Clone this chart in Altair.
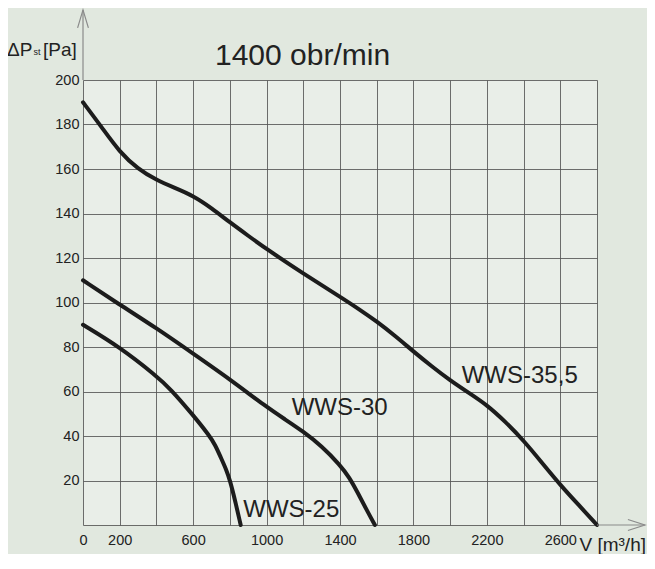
import altair as alt
import pandas as pd

# ---- curve data (V in m3/h, static pressure in Pa) ----
x_355 = [0, 100, 200, 300, 400, 500, 600, 700, 800, 900, 1000, 1200, 1400, 1500, 1600, 1700,
         1800, 1900, 2000, 2100, 2200, 2300, 2400, 2500, 2600, 2700, 2800]
y_355 = [190, 179, 167.5, 160, 155, 151.5, 148, 142.5, 136, 130, 124, 113, 102.6, 97.2, 91.5, 85,
         78, 71.3, 65, 59.5, 54, 46.5, 38, 28, 18, 9, 0]

x_30 = [0, 200, 400, 600, 800, 1000, 1100, 1200, 1300, 1400, 1450, 1500, 1550, 1590]
y_30 = [110, 99, 88.5, 77, 65.5, 53, 47.5, 42, 35.5, 27, 21.5, 14, 6, 0]

x_25 = [0, 200, 400, 474, 600, 690, 720, 750, 780, 801, 830, 859]
y_25 = [90, 80, 67, 61.4, 49.4, 40, 36, 30.5, 25, 20, 10.5, 0]

series_names = ["WWS-35,5", "WWS-30", "WWS-25"]
label_x = [2063, 1137, 873]
label_y = [63.8, 49.4, 3.7]

x_grid = list(range(0, 2801, 200))
y_grid = list(range(0, 201, 20))
x_labels = [0, 200, 600, 1000, 1400, 1800, 2200, 2600]
y_labels = [20, 40, 60, 80, 100, 120, 140, 160, 180, 200]

title_text = "1400 obr/min"
ytitle_main = "\u0394P"
ytitle_sub = "st"
ytitle_unit = "[Pa]"
xtitle_text = "V [m\u00b3/h]"

axis_end_x = 3061
axis_end_y = 231.5

rows = []
for name, xs_, ys_ in zip(series_names, [x_355, x_30, x_25], [y_355, y_30, y_25]):
    for a, b in zip(xs_, ys_):
        rows.append({"series": name, "V": a, "P": b})
df = pd.DataFrame(rows)
lab_df = pd.DataFrame({"series": series_names, "V": label_x, "P": label_y})

FONT = "Liberation Sans"
TXT = "#222222"
AX = "#8a8a8a"

xscale = alt.Scale(domain=[0, 2800], nice=False, zero=False)
yscale = alt.Scale(domain=[0, 200], nice=False, zero=False)

x_axis = alt.Axis(values=x_grid, title=None, domain=False, ticks=False, grid=True, format="d",
                  labelExpr=f"indexof({x_labels}, datum.value) >= 0 ? datum.label : ''",
                  labelPadding=8, labelFontSize=14.5, labelFont=FONT, labelColor=TXT,
                  labelOverlap=False, labelFlush=False)
y_axis = alt.Axis(values=y_grid, title=None, domain=False, ticks=False, grid=True, format="d",
                  labelExpr=f"indexof({y_labels}, datum.value) >= 0 ? datum.label : ''",
                  labelPadding=4, labelFontSize=14.5, labelFont=FONT, labelColor=TXT,
                  labelOverlap=False, labelFlush=False)


def X(f):
    return alt.X(f, type="quantitative", scale=xscale, axis=x_axis)


def Y(f):
    return alt.Y(f, type="quantitative", scale=yscale, axis=y_axis)


lines = alt.Chart(df).mark_line(strokeWidth=4, color="#1c1c1c", interpolate="basis",
                                strokeCap="round").encode(
    x=X("V"), y=Y("P"), detail="series:N")

labels = alt.Chart(lab_df).mark_text(align="left", baseline="alphabetic", fontSize=24,
                                     font=FONT, color=TXT).encode(
    x=X("V"), y=Y("P"), text="series:N")

yext = alt.Chart(pd.DataFrame({"V": [0], "P": [200], "P2": [axis_end_y]})).mark_rule(
    color=AX, strokeWidth=1.2).encode(x=X("V"), y=Y("P"), y2="P2")
xext = alt.Chart(pd.DataFrame({"V": [2800], "V2": [axis_end_x], "P": [0]})).mark_rule(
    color=AX, strokeWidth=1.2).encode(x=X("V"), x2="V2", y=Y("P"))

yarrow = alt.Chart(pd.DataFrame({"V": [0], "P": [axis_end_y]})).mark_point(
    shape="M-0.6,2L0,0L0.6,2", size=324, filled=False, color=AX, strokeWidth=1.2, opacity=1).encode(
    x=X("V"), y=Y("P"))
xarrow = alt.Chart(pd.DataFrame({"V": [axis_end_x], "P": [0]})).mark_point(
    shape="M-2,-0.65L0,0L-2,0.65", size=289, filled=False, color=AX, strokeWidth=1.2, opacity=1).encode(
    x=X("V"), y=Y("P"))

one = pd.DataFrame({"a": [0]})


def ptext(txt, px, py, size, align="left"):
    return alt.Chart(one).mark_text(text=txt, align=align, baseline="alphabetic", fontSize=size,
                                    font=FONT, color=TXT).encode(x=alt.value(px), y=alt.value(py))


title = ptext(title_text, 132, -15, 30)
yt1 = ptext(ytitle_main, -76, -24, 19)
yt2 = ptext(ytitle_sub, -49.5, -25, 9)
yt3 = ptext(ytitle_unit, -40, -24, 19)
xt = ptext(xtitle_text, 563, 471, 19, align="right")

chart = alt.layer(lines, labels, yext, xext, yarrow, xarrow, title, yt1, yt2, yt3, xt).properties(
    width=514, height=445,
    padding={"left": 75, "top": 72, "right": 50, "bottom": 29},
    autosize=alt.AutoSizeParams(type="none"),
    background="#e1e8df",
).configure_view(stroke=None, fill="#e9eee8").configure_axis(
    gridColor="#555555", gridOpacity=0.85, gridWidth=1)

chart.save("out.html", embed_options={"renderer": "svg", "actions": False})
